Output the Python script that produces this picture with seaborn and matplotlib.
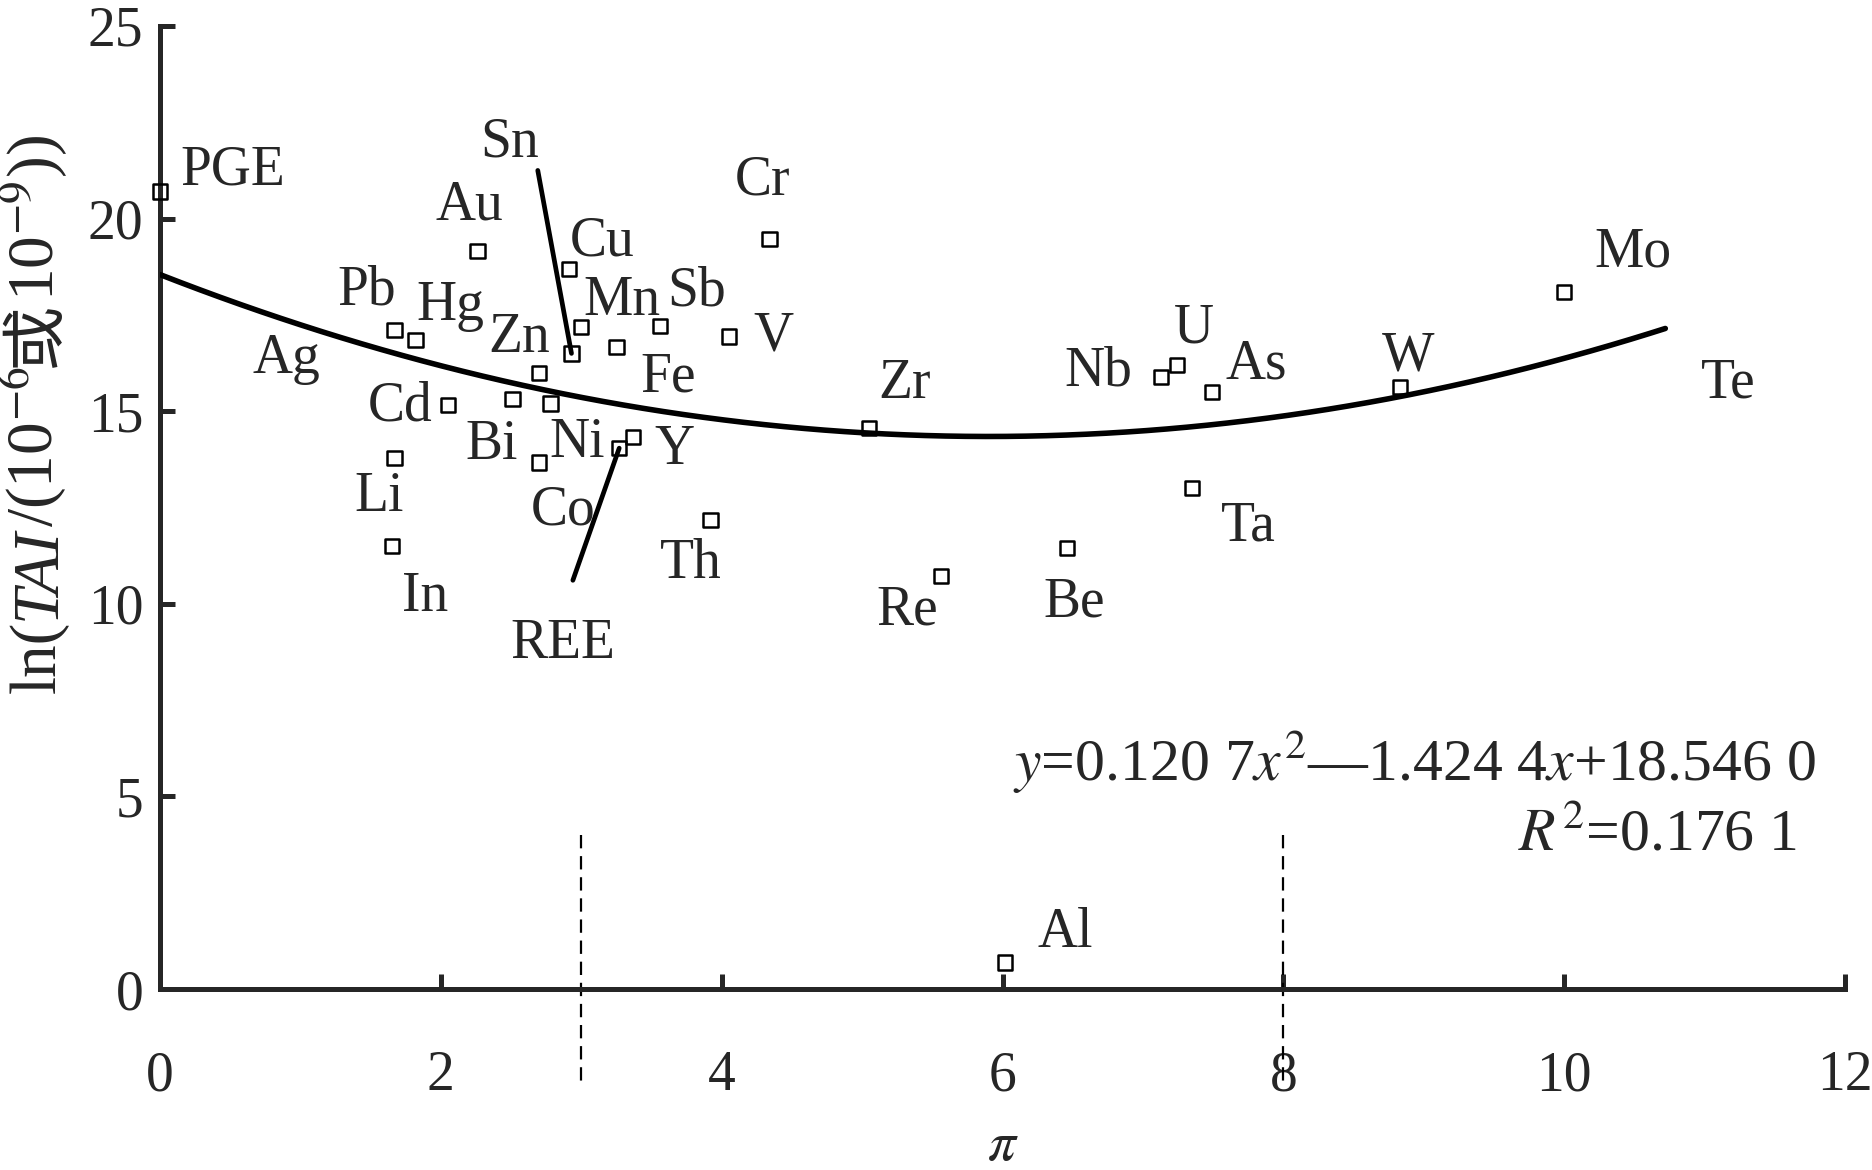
import numpy as np
import pandas as pd
import matplotlib
matplotlib.use("Agg")
import matplotlib.pyplot as plt
import seaborn as sns

# element points
elements = ["PGE", "Au", "Cr", "Cu", "Pb", "Hg", "Mn", "Sb", "V", "Fe", "Sn", "Zn",
            "Cd", "Bi", "Ni", "Y", "REE", "Li", "Co", "Th", "In", "Zr", "Re", "Be",
            "Nb", "U", "As", "Ta", "W", "Mo", "Al"]
pi_vals = [0.00, 2.26, 4.34, 2.91, 1.67, 1.82, 3.00, 3.56, 4.05, 3.25, 2.93, 2.70,
           2.05, 2.51, 2.78, 3.37, 3.27, 1.67, 2.70, 3.92, 1.65, 5.05, 5.56, 6.46,
           7.13, 7.24, 7.49, 7.35, 8.83, 10.00, 6.02]
tai_vals = [20.70, 19.16, 19.47, 18.69, 17.10, 16.85, 17.19, 17.22, 16.94, 16.66, 16.50, 16.00,
            15.16, 15.32, 15.20, 14.32, 14.04, 13.79, 13.67, 12.17, 11.51, 14.57, 10.73, 11.45,
            15.88, 16.19, 15.50, 13.01, 15.63, 18.10, 0.69]

# trend line y = 0.1207x^2 - 1.4244x + 18.5460, drawn over the data range
fit_coef = [0.1207, -1.4244, 18.5460]
fit_range = (0.0, 10.72)
thresholds = [3.0, 8.0]

x_ticks = [0, 2, 4, 6, 8, 10, 12]
y_ticks = [0, 5, 10, 15, 20, 25]

# where each element name is written (visual centre, data units)
label_pos = {
    "PGE": (0.52, 21.37), "Au": (2.20, 20.44), "Cr": (4.29, 21.09), "Cu": (3.15, 19.53),
    "Pb": (1.47, 18.25), "Hg": (2.07, 17.85), "Mn": (3.29, 17.97), "Sb": (3.82, 18.22),
    "V": (4.37, 17.04), "Fe": (3.62, 15.98), "Sn": (2.49, 22.09), "Zn": (2.56, 17.00),
    "Ag": (0.90, 16.47), "Cd": (1.71, 15.23), "Bi": (2.36, 14.23), "Ni": (2.97, 14.29),
    "Y": (3.66, 14.10), "REE": (2.87, 9.08), "Li": (1.56, 12.89), "Co": (2.87, 12.54),
    "Th": (3.78, 11.14), "In": (1.89, 10.30), "Zr": (5.30, 15.82), "Re": (5.32, 9.95),
    "Be": (6.51, 10.14), "Nb": (6.68, 16.13), "U": (7.36, 17.25), "As": (7.81, 16.32),
    "Ta": (7.75, 12.11), "W": (8.89, 16.54), "Mo": (10.49, 19.22), "Te": (11.17, 15.82),
    "Al": (6.45, 1.56),
}
leader_start = {"Sn": (2.69, 21.25), "REE": (2.94, 10.61)}

sns.set_style("ticks")
plt.rcParams["font.family"] = ["Liberation Serif", "Noto Sans CJK SC", "DejaVu Sans"]
plt.rcParams["mathtext.fontset"] = "stix"

FS = 40
fig = plt.figure(figsize=(18.72, 11.7), dpi=100)
ax = fig.add_axes([0.0855, 0.1547, 0.9001, 0.8231])

df = pd.DataFrame({"element": elements, "pi": pi_vals, "tai": tai_vals})
fit_x = np.linspace(fit_range[0], fit_range[1], 300)
fit_df = pd.DataFrame({"pi": fit_x, "tai": np.polyval(fit_coef, fit_x)})

sns.lineplot(data=fit_df, x="pi", y="tai", color="black", linewidth=4.0, ax=ax, zorder=3)
sns.scatterplot(data=df, x="pi", y="tai", marker="s", s=105, color="black",
                facecolor="none", edgecolor="black", linewidth=1.8, ax=ax,
                zorder=4, clip_on=False)

for t in thresholds:
    ax.plot([t, t], [4.0, -2.4], color="black", linewidth=1.6,
            linestyle=(0, (6, 3.5)), clip_on=False, zorder=2)

# baseline placed a third of an em below the given point so caps sit centred on it
for name, (lx, ly) in label_pos.items():
    ax.annotate(name, (lx, ly), xytext=(0, -0.33 * FS), textcoords="offset points",
                fontsize=FS, ha="center", va="baseline", zorder=5)

for name, (sx, sy) in leader_start.items():
    i = elements.index(name)
    ax.plot([sx, pi_vals[i]], [sy, tai_vals[i]], color="black", linewidth=3.4, zorder=3)

ax.text(11.79, 5.93, "$y$=0.120 7$x^2$\u20141.424 4$x$+18.546 0", fontsize=43,
        ha="right", va="center")
ax.text(11.66, 4.0, "$R^2$=0.176 1", fontsize=43, ha="right", va="center")

ax.set_xlim(0, 12)
ax.set_ylim(0, 25)
ax.set_xticks(x_ticks)
ax.set_yticks(y_ticks)
ax.set_xlabel("$\\pi$", fontsize=FS)
ax.xaxis.label.set_va("center")
ax.xaxis.set_label_coords(0.5, -0.163)
ax.set_ylabel("")
for side in ["top", "right"]:
    ax.spines[side].set_visible(False)
for side in ["left", "bottom"]:
    ax.spines[side].set_linewidth(3.6)
ax.tick_params(axis="both", direction="in", length=11, width=3.6, labelsize=FS)
ax.tick_params(axis="x", pad=44)
ax.tick_params(axis="y", pad=12)

# y label in pieces so the italic TAI and the Chinese character both render
YFS = 47
ylab_parts = [("ln(", {}), ("TAI", {"style": "italic"}), ("/(10$^{-6}$", {}),
              ("或", {"family": "Noto Sans CJK SC"}), ("10$^{-9}$))", {})]
texts = []
for s, kw in ylab_parts:
    texts.append(fig.text(0.029, 0.0, s, fontsize=YFS, rotation=90,
                          rotation_mode="anchor", ha="left", va="baseline", **kw))
fig.canvas.draw()
renderer = fig.canvas.get_renderer()
heights = [t.get_window_extent(renderer).height for t in texts]
H = fig.bbox.height
y = 0.646 * H - sum(heights) / 2
for t, h in zip(texts, heights):
    t.set_position((0.029, y / H))
    y += h

fig.savefig("out.png", dpi=100, facecolor="white")
